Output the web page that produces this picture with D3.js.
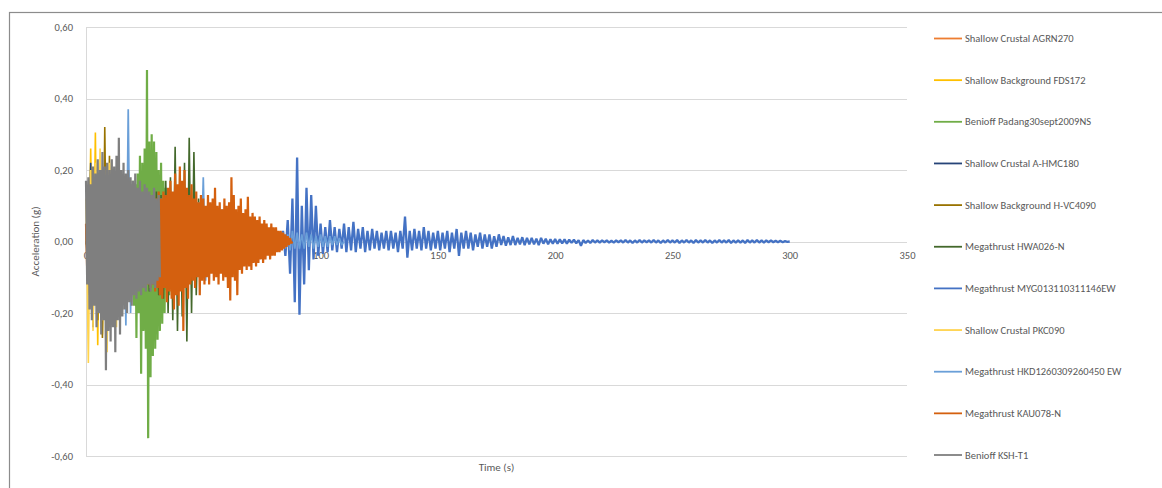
<!DOCTYPE html>
<html>
<meta charset="utf-8">

<head>
    <style>
        body {
            margin: 0;
            background: #fff;
        }

        text {
            font-family: Calibri, Carlito, "Liberation Sans", Arial, sans-serif;
            fill: #595959;
        }

        .axis path,
        .axis line {
            fill: none;
            stroke: #d9d9d9;
            shape-rendering: crispEdges;
        }

        .axis text {
            font-size: 10.5px;
        }

        .trace {
            fill: none;
            stroke-linejoin: bevel;
        }
    </style>
</head>

<body>
    <div id="chart"></div>
    <script src="https://d3js.org/d3.v7.min.js"></script>

    <script>
        // series, in the order Excel draws them (last one ends on top)
        const seriesNames = [
            "Shallow Crustal AGRN270",
            "Shallow Background FDS172",
            "Benioff Padang30sept2009NS",
            "Shallow Crustal A-HMC180",
            "Shallow Background H-VC4090",
            "Megathrust HWA026-N",
            "Megathrust MYG013110311146EW",
            "Shallow Crustal PKC090",
            "Megathrust HKD1260309260450 EW",
            "Megathrust KAU078-N",
            "Benioff KSH-T1"
        ];
        // first sample time and sample spacing (s) of each record
        const seriesStart = [0, 0, 0, 0, 0, 0, 0, 0, 0, 0, 0];
        const seriesStep = [1, 1, 0.5, 1, 1, 1, 1, 1, 1, 0.5, 0.5];

        // acceleration peaks (g)
        const agrn270 = [.02, -.08, .12, -.16, .15, -.2, .18, -.17, .19, -.19,
            .17, -.18, .16, -.17, .18, -.15, .14, -.16, .15, -.13,
            .13, -.12, .12, -.11, .11, -.1, .1, -.09, .08, -.07, 0];
        const fds172 = [.05, -.15, .26, -.2, .305, -.29, .2, -.26, .22, -.2,
            .18, -.2, .17, -.18, .15, -.16, .14, -.15, .13, -.14,
            .12, -.13, .11, -.12, .1, -.11, .1, -.09, .08, -.07, 0];
        const padang = [0, -.01, .02, -.03, .03, -.04, .05, -.04, .06, -.05,
            .07, -.06, .08, -.07, .09, -.08, .1, -.09, .1, -.1,
            .11, -.1, .12, -.11, .1, -.12, .11, -.13, .12, -.12,
            .13, -.14, .12, -.15, .14, -.13, .15, -.16, .16, -.15,
            .17, -.18, .16, -.27, .19, -.2, .24, -.37, .22, -.25,
            .26, -.3, .48, -.55, .28, -.38, .3, -.32, .28, -.3,
            .25, -.275, .2, -.25, .22, -.23, .17, -.2, .15, -.135,
            .14, -.15, .12, -.12, .13, -.11, .1, -.1, .09, -.08,
            .08, -.07, .06, -.05, 0];
        const ahmc180 = [.03, -.12, .22, -.24, .18, -.2, .15, -.18, .16, -.17,
            .15, -.16, .14, -.15, .13, -.12, .12, -.11, .1, -.08, 0];
        const hvc4090 = [.04, -.1, .14, -.18, .17, -.22, .16, -.27, .32, -.2,
            .24, -.22, .2, -.21, .18, -.19, .17, -.16, .16, -.15,
            .14, -.13, .13, -.12, .12, -.11, .1, -.1, .09, -.08, 0];
        const hwa026 = [0, -.03, .05, -.06, .08, -.1, .09, -.12, .1, -.11,
            .12, -.1, .11, -.13, .12, -.11, .1, -.12, .13, -.12,
            .12, -.13, .11, -.12, .13, -.11, .12, -.14, .13, -.12,
            .14, -.15, .13, -.16, .17, -.2, .18, -.22, .265, -.25,
            .2, -.21, .22, -.28, .29, -.2, .25, -.15, .12, -.1, .05];
        const myg0131 = [0, -.01, .02, -.03, .02, -.04, .03, -.03, .04, -.02,
            .03, -.04, .05, -.03, .04, -.05, .03, -.04, .05, -.03,
            .04, -.03, .05, -.04, .03, -.05, .04, -.03, .05, -.04,
            .03, -.04, .04, -.03, .05, -.04, .03, -.04, .04, -.03,
            .04, -.03, .05, -.04, .03, -.04, .04, -.03, .03, -.04,
            .03, -.03, .04, -.03, .03, -.04, .03, -.03, .04, -.03,
            .03, -.03, .03, -.04, .03, -.03, .03, -.02, .03, -.03,
            .02, -.03, .03, -.02, .02, -.03, .02, -.02, .02, -.02,
            .02, -.02, .02, -.02, .03, -.04, .06, -.09, .12, -.17,
            .235, -.205, .1, -.12, .15, -.08, .13, -.05, .1, -.04,
            .05, -.035, .04, -.03, .06, -.025, .04, -.03, .035, -.02,
            .05, -.03, .04, -.025, .055, -.03, .035, -.02, .04, -.03,
            .03, -.025, .035, -.02, .03, -.025, .025, -.02, .03, -.025,
            .03, -.02, .025, -.03, .03, -.02, .07, -.045, .03, -.025,
            .035, -.02, .03, -.025, .04, -.02, .03, -.025, .025, -.02,
            .03, -.025, .025, -.02, .03, -.03, .025, -.02, .035, -.04,
            .025, -.02, .03, -.02, .025, -.025, .02, -.015, .025, -.02,
            .02, -.015, .02, -.02, .015, -.015, .02, -.01, .015, -.012,
            .012, -.01, .015, -.01, .01, -.008, .012, -.01, .01, -.008,
            .01, -.008, .008, -.01, .01, -.006, .008, -.008, .006, -.006,
            .007, -.006, .006, -.005, .006, -.006, .005, -.004, .005, -.005,
            .004, -.012, .004, -.004, .003, -.004, .004, -.003, .003, -.003,
            .003, -.002, .003, -.003, .002, -.003, .003, -.002, .003, -.003,
            .004, -.003, .003, -.004, .003, -.003, .004, -.003, .003, -.002,
            .003, -.003, .004, -.003, .003, -.004, .003, -.003, .004, -.003,
            .003, -.003, .004, -.004, .003, -.003, .004, -.003, .003, -.004,
            .004, -.003, .003, -.003, .004, -.003, .003, -.004, .003, -.003,
            .004, -.003, .003, -.003, .004, -.004, .003, -.003, .003, -.003,
            .003, -.004, .004, -.003, .003, -.003, .004, -.003, .003, -.003,
            .003, -.002, .003, -.002, .002, -.002, .002, -.002, .001, -.001,
            0];
        const pkc090 = [.12, -.34, .2, -.25, .22, -.2, .26, -.22, .2, -.31,
            .22, -.2, .19, -.24, .18, -.2, .16, -.17, .15, -.14,
            .13, -.12, .11, -.1, .08, 0];
        const hkd126 = [.02, -.04, .06, -.08, .1, -.12, .1, -.14, .12, -.13,
            .14, -.12, .15, -.16, .13, -.18, .16, -.235, .37, -.2,
            .12, -.14, .11, -.12, .1, -.13, .11, -.11, .1, -.12,
            .11, -.1, .12, -.11, .1, -.12, .11, -.1, .12, -.11,
            .1, -.12, .11, -.1, .12, -.09, .1, -.075, .11, -.08,
            .18, -.11, .09, -.08, .1, -.07, .08, -.07, .09, -.06,
            .08, -.07, .07, -.06, .07, -.05, .06, -.05, .05, -.04,
            .05, -.04, .04, -.04, .04, -.03, .035, -.03, .03, -.03,
            .03, -.025, .025, -.02, .025, -.02, .02, -.025, .03, -.02,
            .025, -.02, .02, -.02, .025, -.015, .02, -.02, .015, -.015,
            .02, -.015, .015, -.015, .015, -.01, .015, -.01, .01, -.01, 0];
        const kau078 = [.05, -.08, .1, -.12, .13, -.11, .15, -.14, .12, -.16,
            .14, -.13, .16, -.15, .13, -.17, .15, -.14, .17, -.16,
            .14, -.15, .16, -.13, .15, -.16, .13, -.14, .15, -.12,
            .14, -.15, .12, -.13, .14, -.12, .13, -.14, .12, -.11,
            .13, -.12, .11, -.13, .12, -.11, .13, -.12, .11, -.13,
            .12, -.11, .13, -.12, .12, -.13, .11, -.12, .13, -.14,
            .12, -.13, .14, -.15, .12, -.16, .14, -.13, .13, -.17,
            .15, -.14, .17, -.16, .14, -.19, .19, -.15, .16, -.18,
            .21, -.14, .17, -.25, .2, -.13, .15, -.16, .13, -.12,
            .16, -.11, .12, -.13, .14, -.1, .11, -.15, .13, -.11,
            .12, -.12, .1, -.1, .13, -.12, .11, -.09, .12, -.11,
            .15, -.1, .1, -.12, .11, -.09, .09, -.11, .12, -.1,
            .1, -.13, .11, -.165, .18, -.1, .13, -.11, .09, -.15,
            .1, -.08, .12, -.09, .08, -.07, .09, -.08, .125, -.07,
            .07, -.08, .08, -.06, .07, -.07, .06, -.06, .07, -.05,
            .05, -.06, .06, -.05, .05, -.04, .04, -.05, .05, -.04,
            .04, -.04, .04, -.03, .03, -.03, .03, -.025, .025, -.02,
            .02, -.015, .015, -.01, .01, -.005, 0];
        const kshT1 = [.17, -.12, .18, -.19, .16, -.22, .21, -.18, .19, -.24,
            .23, -.2, .2, -.26, .25, -.22, .21, -.36, .22, -.25,
            .2, -.28, .23, -.24, .21, -.31, .24, -.22, .29, -.26,
            .2, -.21, .22, -.19, .19, -.2, .2, -.17, .18, -.18,
            .17, -.15, .19, -.16, .15, -.14, .17, -.15, .14, -.13,
            .16, -.14, .15, -.12, .14, -.14, .13, -.12, .15, -.13,
            .12, -.11, .13, -.1];

        const seriesValues = [agrn270, fds172, padang, ahmc180, hvc4090, hwa026,
            myg0131, pkc090, hkd126, kau078, kshT1];
        const seriesColors = ["#ED7D31", "#FFC000", "#70AD47", "#264478", "#997300",
            "#43682B", "#4472C4", "#FFD34D", "#6A9FD8", "#D4600F", "#7F7F7F"];
        // heavier strokes on the busy records so the swing reads as a filled band
        const seriesWidth = [1.6, 1.6, 2.2, 1.6, 1.6, 1.6, 2.3, 1.6, 1.7, 2.2, 2.2];

        const xTicks = [0, 50, 100, 150, 200, 250, 300, 350];
        const yTicks = [-0.6, -0.4, -0.2, 0, 0.2, 0.4, 0.6];

        var W = 1162, H = 488;
        var plot = { left: 86, right: 907, top: 27, bottom: 456 };

        var svg = d3.select("#chart")
            .append("svg")
            .attr("width", W)
            .attr("height", H);

        // outer chart frame (runs off the right and bottom edges)
        svg.append("rect")
            .attr("x", 9.5)
            .attr("y", 12.5)
            .attr("width", 1170)
            .attr("height", 500)
            .attr("fill", "#fff")
            .attr("stroke", "#8c8c8c")
            .attr("stroke-width", 1.2);

        var x = d3.scaleLinear().domain([0, 350]).range([plot.left, plot.right]);
        var y = d3.scaleLinear().domain([-0.6, 0.6]).range([plot.bottom, plot.top]);

        var comma = function (d) { return d3.format(".2f")(d).replace(".", ",").replace("−", "-"); };

        // y axis with gridlines
        svg.append("g")
            .attr("class", "axis")
            .attr("transform", "translate(" + plot.left + ",0)")
            .call(d3.axisLeft(y)
                .tickValues(yTicks)
                .tickFormat(comma)
                .tickSizeInner(-(plot.right - plot.left))
                .tickSizeOuter(0)
                .tickPadding(13))
            .call(function (g) { g.selectAll("path").attr("d", "M0.5," + plot.top + "V" + plot.bottom); });

        // x axis labels sit under the zero line
        svg.append("g")
            .attr("class", "axis x")
            .attr("transform", "translate(0," + y(0) + ")")
            .call(d3.axisBottom(x).tickValues(xTicks).tickSize(0).tickPadding(10))
            .call(function (g) { g.select(".domain").remove(); });

        // traces
        var line = d3.line()
            .x(function (d) { return x(d.t); })
            .y(function (d) { return y(d.v); });

        seriesValues.forEach(function (vals, k) {
            var pts = vals.map(function (v, i) {
                return { t: seriesStart[k] + i * seriesStep[k], v: v };
            });
            svg.append("path")
                .attr("class", "trace")
                .attr("d", line(pts))
                .attr("stroke", seriesColors[k])
                .attr("stroke-width", seriesWidth[k]);
        });

        // axis titles
        svg.append("text")
            .attr("transform", "translate(39," + y(0) + ") rotate(-90)")
            .attr("text-anchor", "middle")
            .style("font-size", "11px")
            .text("Acceleration (g)");

        svg.append("text")
            .attr("x", (plot.left + plot.right) / 2)
            .attr("y", 471)
            .attr("text-anchor", "middle")
            .style("font-size", "11px")
            .text("Time (s)");

        // legend
        var legend = svg.append("g");
        var rowY = d3.scalePoint().domain(d3.range(seriesNames.length)).range([38.5, 455]);

        seriesNames.forEach(function (name, k) {
            var row = legend.append("g").attr("transform", "translate(0," + rowY(k) + ")");
            row.append("line")
                .attr("x1", 934).attr("x2", 962)
                .attr("stroke", seriesColors[k])
                .attr("stroke-width", 1.8);
            row.append("text")
                .attr("x", 965)
                .attr("dy", "0.35em")
                .style("font-size", "10.5px")
                .text(name);
        });
    </script>

</body>

</html>
